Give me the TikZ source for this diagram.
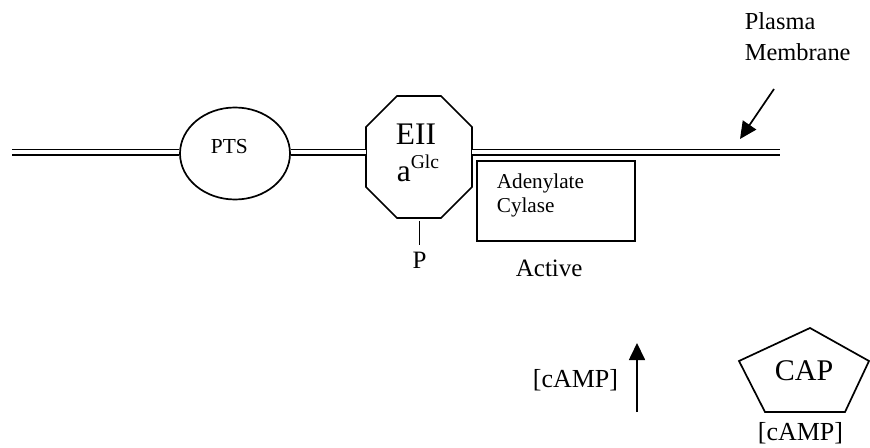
\documentclass[tikz,border=0pt]{standalone}
\usepackage{fontspec}
\setmainfont{Liberation Serif}
\usetikzlibrary{arrows.meta,shapes.geometric}
\newcommand{\fs}[1]{\fontsize{#1}{#1}\selectfont}
\begin{document}
\begin{tikzpicture}[x=0.5pt,y=-0.5pt,line width=0.85pt,
  memb/.style={line width=0.8pt,double,double distance=1.8pt},
  lbl/.style={inner sep=0pt,anchor=base west},
  bigarrow/.style={line width=0.85pt,-{Triangle[length=8.5pt,width=8pt]}}]
\useasboundingbox (0,0) rectangle (870,448);
% membrane ends
\coordinate (mL) at (12,152.2);
\coordinate (mR) at (780,152.2);
% PTS
\node[ellipse,draw,minimum width=55pt,minimum height=46pt,inner sep=0pt] (pts) at (235,153.5) {};
\node[lbl] (ptstext) at (210,153.3) {\fs{10.7}PTS};
% octagon EII
\coordinate (o1) at (397,96);
\coordinate (o2) at (441,96);
\coordinate (o3) at (472,127);
\coordinate (o4) at (472,187);
\coordinate (o5) at (441,218);
\coordinate (o6) at (397,218);
\coordinate (o7) at (366,187);
\coordinate (o8) at (366,127);
\draw (o1) -- (o2) -- (o3) -- (o4) -- (o5) -- (o6) -- (o7) -- (o8) -- cycle;
\node[inner sep=0pt,anchor=base] (eii) at (416,145) {\fs{15.7}EII};
\node[lbl] (aglc) at (396,181.7) {\fs{15.7}a\raisebox{6.4pt}{\fs{9.8}Glc}};
% membrane segments
\draw[memb] (mL) -- (mL -| pts.west);
\draw[memb] (mL -| pts.east) -- (mL -| o8);
\draw[memb] (mL -| o3) -- (mR);
% P
\coordinate (ptop) at (419.5,221);
\node[inner sep=0pt,anchor=base] (p) at (419.5,269) {\fs{12.5}P};
\draw (ptop) -- (419.5,245);
% adenylate cyclase
\node[draw,minimum width=79pt,minimum height=40pt,anchor=north west,inner sep=0pt] (ac) at (476,160) {};
\node[lbl] (ac1) at (496,189) {\fs{10.6}Adenylate};
\node[lbl] (ac2) at (496,213) {\fs{10.6}Cylase};
\node[lbl] (active) at (515,276.5) {\fs{12.5}Active};
% plasma membrane label
\node[lbl] (pl1) at (744,30) {\fs{12.2}Plasma};
\node[lbl] (pl2) at (744,61) {\fs{12.2}Membrane};
\coordinate (pmtail) at (774,89);
\coordinate (pmtip) at (740,139);
\draw[bigarrow] (pmtail) -- (pmtip);
% cAMP arrow
\node[lbl] (camp1) at (532,387) {\fs{13}[cAMP]};
\coordinate (cat) at (637,412);
\coordinate (cah) at (637,343);
\draw[bigarrow] (cat) -- (cah);
% CAP pentagon
\coordinate (c1) at (810,328);
\coordinate (c2) at (869,361);
\coordinate (c3) at (845,412);
\coordinate (c4) at (765,412);
\coordinate (c5) at (739,361);
\draw (c1) -- (c2) -- (c3) -- (c4) -- (c5) -- cycle;
\node[lbl] (cap) at (774,380.7) {\fs{15}CAP};
\node[lbl] (camp2) at (757,440) {\fs{13}[cAMP]};
\end{tikzpicture}
\end{document}
